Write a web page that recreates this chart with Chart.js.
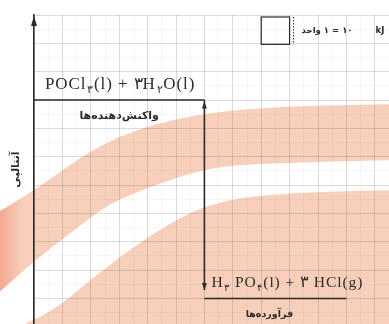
<!DOCTYPE html>
<html>
<head>
<meta charset="utf-8">
<script src="https://cdn.jsdelivr.net/npm/chart.js@4.4.1/dist/chart.umd.min.js"></script>
<style>
  html, body { margin: 0; padding: 0; background: #fff; }
  #wrap { width: 389px; height: 324px; }
</style>
</head>
<body>
<div id="wrap"><canvas id="chart-enthalpy"></canvas></div>
<script>
// enthalpy levels, in grid units (1 unit = 10 kJ)
const levelEnthalpy = [7, 0];
const levelStart = [0, 6];
const levelEnd = [6, 11];
const levelNames = ["واکنش‌دهنده‌ها", "فرآورده‌ها"];
const levelFormulas = [
  [{ t: "POCl" }, { t: "۳", sub: true }, { t: "(l) + ۳H" }, { t: "۲", sub: true }, { t: "O(l)" }],
  [{ t: "H" }, { t: "۳", sub: true }, { t: " PO" }, { t: "۴", sub: true }, { t: "(l) + ۳ HCl(g)" }],
];
const arrowEnds = [6.95, 0.3];
const axisTitle = "آنتالپی";
// key text, pieces in visual order left to right
const unitLabel = ["واحد", "۱", "=", "۱۰", "kJ"];

const colors = {
  ink: "#2b2b2b",
  peach: "#f8cfba",
  gridMajor: "rgba(90, 90, 90, 0.22)",
  gridMinor: "rgba(90, 90, 90, 0.05)",
};

function smoothEdge(ctx, pts, move) {
  if (move) ctx.moveTo(pts[0][0], pts[0][1]);
  else ctx.lineTo(pts[0][0], pts[0][1]);
  for (let i = 1; i < pts.length - 1; i++) {
    const mx = (pts[i][0] + pts[i + 1][0]) / 2;
    const my = (pts[i][1] + pts[i + 1][1]) / 2;
    ctx.quadraticCurveTo(pts[i][0], pts[i][1], mx, my);
  }
  const last = pts[pts.length - 1];
  ctx.lineTo(last[0], last[1]);
}

// scanned page look: the peach bands behind the grid
const paperPlugin = {
  id: "paper",
  beforeDraw(chart) {
    const ctx = chart.ctx;
    ctx.save();
    ctx.fillStyle = "#fff";
    ctx.fillRect(0, 0, chart.width, chart.height);
    ctx.fillStyle = colors.peach;
    ctx.beginPath();
    smoothEdge(ctx, [[-5, 214], [33, 192], [100, 143], [173, 118], [260, 107], [395, 104]], true);
    smoothEdge(ctx, [[395, 160], [250, 163], [200, 170], [150, 187], [110, 203], [77, 228], [33, 262], [-5, 296]], false);
    ctx.closePath();
    ctx.fill();
    ctx.beginPath();
    smoothEdge(ctx, [[-5, 334], [40, 322], [100, 272], [150, 235], [207, 203], [280, 193], [395, 190]], true);
    ctx.lineTo(395, 330);
    ctx.closePath();
    ctx.fill();
    // redder rim on the left end of the upper band
    const g = ctx.createLinearGradient(0, 0, 22, 0);
    g.addColorStop(0, "rgba(236, 96, 66, 0.35)");
    g.addColorStop(1, "rgba(236, 96, 66, 0)");
    ctx.fillStyle = g;
    ctx.beginPath();
    smoothEdge(ctx, [[-5, 214], [33, 192]], true);
    smoothEdge(ctx, [[33, 262], [-5, 296]], false);
    ctx.closePath();
    ctx.fill();
    ctx.restore();
  },
};

function drawRich(ctx, parts, x, y, size) {
  let cx = x;
  ctx.letterSpacing = "0.9px";
  parts.forEach((p) => {
    const fs = p.sub ? size * 0.62 : size;
    ctx.font = fs + 'px "Liberation Serif", "DejaVu Serif", serif';
    ctx.fillText(p.t, cx, y + (p.sub ? size * 0.22 : 0));
    cx += ctx.measureText(p.t).width + 0.8;
  });
  ctx.letterSpacing = "0px";
}

function arrowHead(ctx, x, y, dir, w, h) {
  ctx.beginPath();
  ctx.moveTo(x, y);
  ctx.lineTo(x - w / 2, y + dir * h);
  ctx.lineTo(x + w / 2, y + dir * h);
  ctx.closePath();
  ctx.fill();
}

const labelPlugin = {
  id: "labels",
  afterDatasetsDraw(chart) {
    const ctx = chart.ctx;
    const xs = chart.scales.x;
    const ys = chart.scales.y;
    const area = chart.chartArea;
    ctx.save();
    ctx.fillStyle = colors.ink;
    ctx.strokeStyle = colors.ink;
    ctx.direction = "ltr";
    ctx.textBaseline = "alphabetic";

    // y axis arrow
    arrowHead(ctx, area.left, area.top + 1, 1, 6, 10);

    // ΔH arrow heads
    const ax = xs.getPixelForValue(levelEnd[0]);
    arrowHead(ctx, ax, ys.getPixelForValue(arrowEnds[0]), 1, 5, 7);
    arrowHead(ctx, ax, ys.getPixelForValue(arrowEnds[1]), -1, 5, 7);

    const nameSize = [11, 9.5];
    const formulaSize = [17, 15.6];
    levelEnthalpy.forEach((h, i) => {
      const py = ys.getPixelForValue(h);
      const x0 = xs.getPixelForValue(levelStart[i]);
      const x1 = xs.getPixelForValue(levelEnd[i]);
      ctx.textAlign = "left";
      drawRich(ctx, levelFormulas[i], x0 + (i === 0 ? 11 : 7), py - 11, formulaSize[i]);
      ctx.textAlign = "center";
      ctx.textBaseline = "middle";
      ctx.font = "bold " + nameSize[i] + 'px "DejaVu Sans", sans-serif';
      ctx.fillText(levelNames[i], (x0 + x1) / 2 - (i === 1 ? 6 : 0), py + 16);
      ctx.textBaseline = "alphabetic";
    });

    // unit key: one grid cell = 10 kJ
    const kx0 = xs.getPixelForValue(8);
    const kx1 = xs.getPixelForValue(9);
    const ky0 = ys.getPixelForValue(10) + 2;
    const ky1 = ys.getPixelForValue(9) + 1;
    ctx.lineWidth = 1.2;
    ctx.strokeRect(kx0, ky0, kx1 - kx0, ky1 - ky0);
    ctx.setLineDash([1.5, 1.5]);
    ctx.lineWidth = 1;
    ctx.beginPath();
    ctx.moveTo(kx1 + 4, ky0);
    ctx.lineTo(kx1 + 4, ky1);
    ctx.stroke();
    ctx.setLineDash([]);
    const ty = (ky0 + ky1) / 2;
    ctx.textAlign = "left";
    ctx.textBaseline = "middle";
    ctx.font = 'bold 8.5px "DejaVu Sans", sans-serif';
    let cx = kx1 + 12;
    unitLabel.slice(0, 4).forEach((s) => {
      ctx.fillText(s, cx, ty);
      cx += ctx.measureText(s).width + 3;
    });
    ctx.fillText(unitLabel[4], kx1 + 86, ty);
    ctx.restore();
  },
};

function gridColor(c) {
  if (!c.tick) return colors.gridMajor;
  return Number.isInteger(c.tick.value) ? colors.gridMajor : colors.gridMinor;
}

function halfSteps(from, to) {
  const out = [];
  for (let v = from; v <= to + 1e-9; v += 0.5) out.push({ value: v });
  return out;
}

function renderChartEnthalpy() {
  const chartData = levelEnthalpy.map((h, i) => ({
    label: levelNames[i],
    data: [
      { x: levelStart[i], y: h },
      { x: levelEnd[i], y: h },
    ],
    borderColor: colors.ink,
    borderWidth: 1.6,
    pointRadius: 0,
    showLine: true,
  }));
  chartData.push({
    label: "ΔH",
    data: [
      { x: levelEnd[0], y: levelEnthalpy[0] },
      { x: levelEnd[0], y: arrowEnds[1] },
    ],
    borderColor: colors.ink,
    borderWidth: 1.6,
    pointRadius: 0,
    showLine: true,
  });

  const config = {
    type: "scatter",
    data: { datasets: chartData },
    options: {
      responsive: true,
      maintainAspectRatio: false,
      animation: false,
      layout: { padding: { left: 10, top: 15, right: 0, bottom: 0 } },
      plugins: {
        legend: { display: false },
        tooltip: { enabled: false },
      },
      scales: {
        x: {
          type: "linear",
          min: 0,
          max: 12.5,
          afterBuildTicks: (scale) => { scale.ticks = halfSteps(0, 12.5); },
          ticks: { display: false },
          grid: { color: gridColor, drawTicks: false, lineWidth: 1 },
          border: { display: false },
        },
        y: {
          type: "linear",
          min: -0.9,
          max: 10,
          afterBuildTicks: (scale) => { scale.ticks = halfSteps(-0.5, 10); },
          ticks: { display: false },
          grid: { color: gridColor, drawTicks: false, lineWidth: 1 },
          border: { display: true, color: colors.ink, width: 1.6 },
          title: {
            display: true,
            text: axisTitle,
            color: colors.ink,
            font: { family: "DejaVu Sans", size: 11, weight: "bold" },
            padding: { top: 0, bottom: 10.8 },
          },
        },
      },
    },
    plugins: [paperPlugin, labelPlugin],
  };

  new Chart(document.getElementById("chart-enthalpy"), config);
}

renderChartEnthalpy();
</script>
</body>
</html>
